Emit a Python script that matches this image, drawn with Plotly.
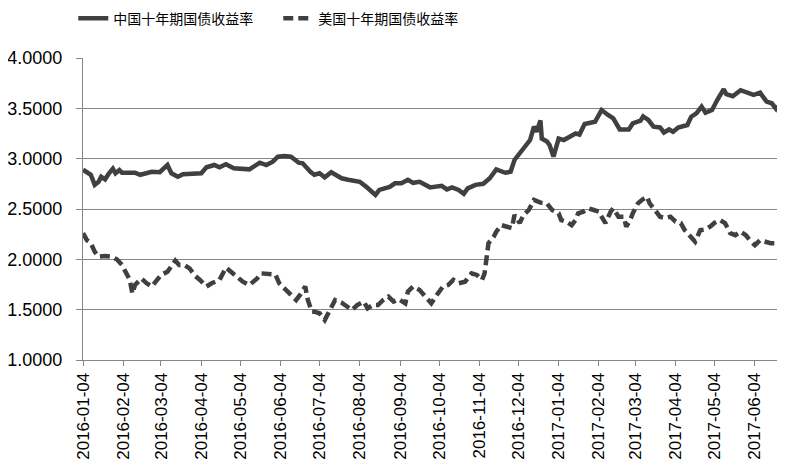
import plotly.graph_objects as go

china_dates = [
    "2016-01-04", "2016-01-07", "2016-01-10", "2016-01-13", "2016-01-16", "2016-01-18", "2016-01-21",
    "2016-01-24", "2016-01-27", "2016-01-29", "2016-02-01", "2016-02-03", "2016-02-13", "2016-02-17",
    "2016-02-22", "2016-02-26", "2016-03-03", "2016-03-09", "2016-03-12", "2016-03-17", "2016-03-21",
    "2016-03-31", "2016-04-04", "2016-04-08", "2016-04-14", "2016-04-18", "2016-04-23", "2016-04-29",
    "2016-05-08", "2016-05-11", "2016-05-19", "2016-05-24", "2016-05-29", "2016-06-02", "2016-06-07",
    "2016-06-12", "2016-06-18", "2016-06-21", "2016-06-27", "2016-06-30", "2016-07-04", "2016-07-08",
    "2016-07-13", "2016-07-17", "2016-07-21", "2016-07-26", "2016-07-30", "2016-08-04", "2016-08-09",
    "2016-08-16", "2016-08-19", "2016-08-23", "2016-08-27", "2016-08-31", "2016-09-05", "2016-09-10",
    "2016-09-14", "2016-09-19", "2016-09-23", "2016-09-27", "2016-10-06", "2016-10-10", "2016-10-14",
    "2016-10-19", "2016-10-23", "2016-10-26", "2016-11-01", "2016-11-07", "2016-11-12", "2016-11-17",
    "2016-11-24", "2016-11-28", "2016-12-01", "2016-12-07", "2016-12-09", "2016-12-13", "2016-12-16",
    "2016-12-18", "2016-12-21", "2016-12-22", "2016-12-26", "2016-12-28", "2016-12-31", "2017-01-04",
    "2017-01-08", "2017-01-13", "2017-01-17", "2017-01-20", "2017-01-24", "2017-02-01", "2017-02-06",
    "2017-02-11", "2017-02-15", "2017-02-20", "2017-02-27", "2017-03-02", "2017-03-08", "2017-03-10",
    "2017-03-14", "2017-03-18", "2017-03-23", "2017-03-26", "2017-03-30", "2017-04-02", "2017-04-06",
    "2017-04-13", "2017-04-16", "2017-04-20", "2017-04-24", "2017-04-27", "2017-05-02", "2017-05-06",
    "2017-05-11", "2017-05-13", "2017-05-18", "2017-05-24", "2017-05-30", "2017-06-03", "2017-06-08",
    "2017-06-13", "2017-06-17", "2017-06-20", "2017-06-21",
]
china_yield = [
    2.89, 2.87, 2.84, 2.74, 2.77, 2.82, 2.795,
    2.855, 2.90, 2.855, 2.887, 2.86, 2.86, 2.84,
    2.855, 2.87, 2.865, 2.937, 2.855, 2.82, 2.845,
    2.855, 2.855, 2.914, 2.937, 2.914, 2.944, 2.904,
    2.904, 2.894, 2.96, 2.937, 2.97, 3.02, 3.027,
    3.02, 2.96, 2.954, 2.87, 2.84, 2.855, 2.815,
    2.865, 2.84, 2.805, 2.79, 2.78, 2.77, 2.72,
    2.64, 2.69, 2.705, 2.72, 2.755, 2.755, 2.79,
    2.76, 2.77, 2.74, 2.715, 2.73, 2.695, 2.715,
    2.69, 2.65, 2.705, 2.74, 2.75, 2.805, 2.894,
    2.86, 2.87, 2.987, 3.086, 3.12, 3.185, 3.318,
    3.268, 3.38, 3.20, 3.17, 3.136, 3.02, 3.20,
    3.185, 3.218, 3.25, 3.24, 3.344, 3.367, 3.483,
    3.434, 3.40, 3.29, 3.29, 3.35, 3.377, 3.42,
    3.384, 3.318, 3.31, 3.26, 3.29, 3.268, 3.31,
    3.334, 3.417, 3.45, 3.517, 3.457, 3.483, 3.583,
    3.69, 3.642, 3.62, 3.68, 3.65, 3.633, 3.655,
    3.566, 3.55, 3.50, 3.53,
]

us_dates = [
    "2016-01-04", "2016-01-07", "2016-01-10", "2016-01-13", "2016-01-16", "2016-01-21", "2016-01-26",
    "2016-01-30", "2016-02-03", "2016-02-06", "2016-02-09", "2016-02-11", "2016-02-13", "2016-02-18",
    "2016-02-22", "2016-02-26", "2016-02-29", "2016-03-04", "2016-03-09", "2016-03-15", "2016-03-18",
    "2016-03-22", "2016-03-26", "2016-03-30", "2016-04-03", "2016-04-08", "2016-04-12", "2016-04-18",
    "2016-04-23", "2016-04-27", "2016-05-02", "2016-05-06", "2016-05-11", "2016-05-17", "2016-05-20",
    "2016-05-31", "2016-06-03", "2016-06-09", "2016-06-12", "2016-06-16", "2016-06-19", "2016-06-23",
    "2016-06-25", "2016-06-28", "2016-06-30", "2016-07-04", "2016-07-08", "2016-07-11", "2016-07-13",
    "2016-07-16", "2016-07-21", "2016-07-26", "2016-07-29", "2016-08-02", "2016-08-07", "2016-08-10",
    "2016-08-14", "2016-08-18", "2016-08-22", "2016-08-26", "2016-08-30", "2016-09-03", "2016-09-08",
    "2016-09-10", "2016-09-14", "2016-09-19", "2016-09-24", "2016-09-28", "2016-10-03", "2016-10-07",
    "2016-10-11", "2016-10-15", "2016-10-19", "2016-10-24", "2016-10-29", "2016-11-02", "2016-11-06",
    "2016-11-08", "2016-11-10", "2016-11-11", "2016-11-15", "2016-11-17", "2016-11-21", "2016-11-26",
    "2016-11-29", "2016-12-01", "2016-12-05", "2016-12-08", "2016-12-12", "2016-12-16", "2016-12-21",
    "2016-12-26", "2016-12-30", "2017-01-04", "2017-01-06", "2017-01-10", "2017-01-14", "2017-01-17",
    "2017-01-19", "2017-01-23", "2017-01-27", "2017-01-31", "2017-02-04", "2017-02-06", "2017-02-09",
    "2017-02-13", "2017-02-15", "2017-02-19", "2017-02-23", "2017-02-25", "2017-02-28", "2017-03-02",
    "2017-03-06", "2017-03-09", "2017-03-13", "2017-03-15", "2017-03-19", "2017-03-23", "2017-03-27",
    "2017-03-31", "2017-04-04", "2017-04-08", "2017-04-11", "2017-04-15", "2017-04-19", "2017-04-23",
    "2017-04-27", "2017-05-01", "2017-05-04", "2017-05-08", "2017-05-12", "2017-05-16", "2017-05-20",
    "2017-05-24", "2017-05-28", "2017-05-31", "2017-06-04", "2017-06-08", "2017-06-12", "2017-06-16",
    "2017-06-21",
]
us_yield = [
    2.26, 2.19, 2.16, 2.076, 2.026, 2.033, 2.026,
    2.0, 1.944, 1.861, 1.795, 1.66, 1.745, 1.81,
    1.762, 1.73, 1.78, 1.845, 1.877, 1.987, 1.944,
    1.944, 1.91, 1.84, 1.795, 1.73, 1.762, 1.795,
    1.918, 1.877, 1.828, 1.778, 1.745, 1.81, 1.861,
    1.85, 1.762, 1.68, 1.646, 1.596, 1.646, 1.73,
    1.596, 1.48, 1.48, 1.464, 1.397, 1.464, 1.53,
    1.596, 1.57, 1.53, 1.497, 1.546, 1.58, 1.514,
    1.546, 1.546, 1.596, 1.63, 1.58, 1.603, 1.563,
    1.68, 1.73, 1.696, 1.63, 1.563, 1.66, 1.73,
    1.745, 1.795, 1.762, 1.778, 1.861, 1.845, 1.795,
    1.861, 2.06, 2.16, 2.225, 2.275, 2.34, 2.325,
    2.31, 2.44, 2.36, 2.44, 2.49, 2.59, 2.563,
    2.556, 2.49, 2.457, 2.39, 2.374, 2.34, 2.39,
    2.457, 2.474, 2.507, 2.49, 2.474, 2.424, 2.36,
    2.474, 2.507, 2.424, 2.424, 2.325, 2.39, 2.457,
    2.556, 2.59, 2.622, 2.556, 2.49, 2.424, 2.41,
    2.424, 2.374, 2.36, 2.29, 2.225, 2.175, 2.29,
    2.297, 2.33, 2.364, 2.39, 2.36, 2.26, 2.24,
    2.275, 2.24, 2.19, 2.14, 2.19, 2.175, 2.16,
    2.16,
]

tick_dates = [
    "2016-01-04", "2016-02-04", "2016-03-04", "2016-04-04", "2016-05-04", "2016-06-04",
    "2016-07-04", "2016-08-04", "2016-09-04", "2016-10-04", "2016-11-04", "2016-12-04",
    "2017-01-04", "2017-02-04", "2017-03-04", "2017-04-04", "2017-05-04", "2017-06-04",
]
y_ticks = [1.0, 1.5, 2.0, 2.5, 3.0, 3.5, 4.0]
series_names = ["中国十年期国债收益率", "美国十年期国债收益率"]

LINE = "#404040"
GRID = "#868686"

fig = go.Figure()
fig.add_trace(go.Scatter(x=china_dates, y=china_yield, mode="lines", name=series_names[0],
                         line=dict(color=LINE, width=4.5)))
fig.add_trace(go.Scatter(x=us_dates, y=us_yield, mode="lines", name=series_names[1],
                         line=dict(color=LINE, width=4.5, dash="10px,5px")))

# The page body adds an 8px margin, so the figure is sized to fit the window.
fig.update_layout(
    width=777, height=468,
    margin=dict(l=75, r=8, t=50, b=116, autoexpand=False),
    paper_bgcolor="white", plot_bgcolor="white",
    font=dict(family="Liberation Sans, Arial, sans-serif", size=18, color="#000000"),
    showlegend=True,
    legend=dict(orientation="h", x=-0.014, xanchor="left", y=1.183, yanchor="top",
                font=dict(family="Noto Sans CJK SC", size=14, color="#000000"),
                bgcolor="rgba(0,0,0,0)", entrywidth=160),
    xaxis=dict(type="date", range=["2016-01-04", "2017-06-21"], automargin=False,
               tickvals=tick_dates, ticktext=tick_dates, tickangle=-90,
               showgrid=False, zeroline=False,
               showline=True, linecolor=GRID, linewidth=1,
               ticks="outside", ticklen=5, tickcolor=GRID, tickwidth=1,
               tickfont=dict(size=17)),
    yaxis=dict(range=[1.0, 4.0], tickvals=y_ticks, tickformat=".4f", automargin=False,
               showgrid=True, gridcolor=GRID, gridwidth=1, zeroline=False,
               showline=True, linecolor=GRID, linewidth=1,
               ticks="outside", ticklen=6, tickcolor=GRID, tickwidth=1,
               ticklabelstandoff=10,
               tickfont=dict(size=18)),
)

fig.write_html("out.html")
